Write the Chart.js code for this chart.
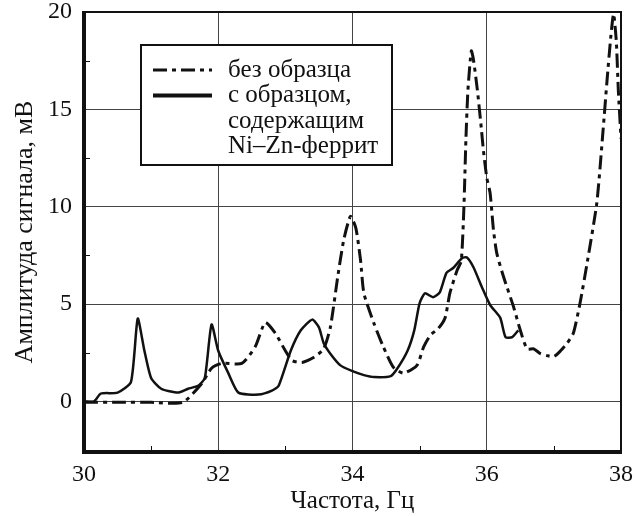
<!DOCTYPE html>
<html lang="ru">
<head>
<meta charset="utf-8">
<title>Амплитуда сигнала</title>
<script src="https://cdn.jsdelivr.net/npm/chart.js@4.4.1/dist/chart.umd.min.js"></script>
<style>
  html, body { margin: 0; padding: 0; background: #fff; }
  canvas { display: block; }
</style>
</head>
<body>
<canvas id="myChart" width="635" height="516"></canvas>
<script>
// без образца: частота, Гц / амплитуда, мВ
const freqEmpty = [30.0, 30.5, 31.0, 31.47, 31.75, 31.9, 32.05, 32.35, 32.55, 32.7, 32.85, 33.0, 33.1, 33.25,
  33.42, 33.57, 33.67, 33.78, 33.87, 33.97, 34.05, 34.12, 34.17, 34.32, 34.46, 34.61, 34.76, 34.96, 35.06,
  35.16, 35.28, 35.38, 35.45, 35.56, 35.62, 35.66, 35.69, 35.72, 35.77, 35.8, 35.86, 35.92, 35.95, 36.0,
  36.05, 36.1, 36.15, 36.25, 36.4, 36.5, 36.6, 36.7, 36.8, 36.9, 37.0, 37.1, 37.2, 37.29, 37.39, 37.5,
  37.64, 37.73, 37.79, 37.85, 37.89, 37.93, 37.96, 38.0];
const ampEmpty = [-0.05, -0.05, -0.05, -0.05, 0.9, 1.7, 1.95, 1.95, 2.8, 4.05, 3.5, 2.6, 2.1, 2.0,
  2.25, 2.7, 3.8, 6.4, 8.3, 9.5, 8.9, 7.25, 5.55, 4.0, 2.8, 1.75, 1.45, 1.85, 2.8,
  3.4, 3.75, 4.3, 5.55, 6.75, 7.2, 10.0, 13.5, 16.0, 18.0, 17.6, 16.0, 14.0, 12.9, 11.5,
  10.7, 8.8, 7.6, 6.4, 4.85, 3.65, 2.7, 2.7, 2.45, 2.35, 2.3, 2.6, 3.0, 3.5, 5.05, 7.2,
  10.2, 13.8, 16.4, 18.8, 19.9, 18.5, 16.0, 13.5];

// с образцом, содержащим Ni–Zn-феррит
const freqSample = [30.0, 30.15, 30.25, 30.5, 30.7, 30.8, 30.9, 31.0, 31.15, 31.4, 31.55, 31.7, 31.8, 31.9,
  32.0, 32.15, 32.3, 32.6, 32.8, 32.9, 33.08, 33.23, 33.4, 33.5, 33.57, 33.67, 33.82, 34.0, 34.17, 34.32,
  34.57, 34.67, 34.82, 34.92, 35.0, 35.08, 35.2, 35.3, 35.4, 35.5, 35.63, 35.7, 35.8, 35.93, 36.05, 36.2,
  36.28, 36.38, 36.47];
const ampSample = [0.0, 0.0, 0.4, 0.45, 1.0, 4.25, 2.6, 1.2, 0.65, 0.45, 0.65, 0.8, 1.2, 3.95,
  2.6, 1.45, 0.45, 0.35, 0.55, 0.8, 2.6, 3.65, 4.2, 3.8, 3.0, 2.45, 1.85, 1.55, 1.35, 1.25,
  1.3, 1.7, 2.6, 3.65, 5.05, 5.55, 5.35, 5.6, 6.6, 6.85, 7.35, 7.4, 6.9, 5.85, 4.95, 4.3,
  3.3, 3.3, 3.65];

const xTicks = [30, 32, 34, 36, 38];
const yTicks = [0, 5, 10, 15, 20];
const xMinor = [31, 33, 35, 37];
const yMinor = [2.5, 7.5, 12.5, 17.5];

const legendItems = [
  { lines: ['без образца'], dash: [14, 5, 4, 5] },
  { lines: ['с образцом,', 'содержащим', 'Ni–Zn-феррит'], dash: [] }
];

const SERIF = '"Liberation Serif", "Times New Roman", serif';
const dashDot = [14, 5, 4, 5];

function toPoints(xs, ys) {
  return xs.map((x, i) => ({ x: x, y: ys[i] }));
}

// рамка: левая и нижняя стороны толще, плюс короткие внутренние риски
const framePlugin = {
  id: 'frame',
  afterDatasetsDraw(chart) {
    const { ctx, chartArea: a, scales } = chart;
    ctx.save();
    ctx.strokeStyle = '#111';
    ctx.lineWidth = 2;
    ctx.beginPath();
    ctx.moveTo(a.left, a.top);
    ctx.lineTo(a.right, a.top);
    ctx.lineTo(a.right, a.bottom);
    ctx.stroke();
    ctx.lineWidth = 4;
    ctx.beginPath();
    ctx.moveTo(a.left, a.top - 1);
    ctx.lineTo(a.left, a.bottom);
    ctx.lineTo(a.right + 1, a.bottom);
    ctx.stroke();

    ctx.lineWidth = 1;
    ctx.beginPath();
    xMinor.forEach(v => {
      const px = Math.round(scales.x.getPixelForValue(v)) + 0.5;
      ctx.moveTo(px, a.bottom);
      ctx.lineTo(px, a.bottom - 6);
    });
    yMinor.forEach(v => {
      const py = Math.round(scales.y.getPixelForValue(v)) + 0.5;
      ctx.moveTo(a.left, py);
      ctx.lineTo(a.left + 6, py);
    });
    ctx.stroke();
    ctx.restore();
  }
};

// легенда в рамке поверх сетки
const boxLegend = {
  id: 'boxLegend',
  afterDraw(chart) {
    const { ctx, chartArea: a } = chart;
    const left = a.left + 57, top = a.top + 33, w = 251, h = 120;
    ctx.save();
    ctx.fillStyle = '#fff';
    ctx.fillRect(left, top, w, h);
    ctx.strokeStyle = '#111';
    ctx.lineWidth = 2;
    ctx.strokeRect(left, top, w, h);

    ctx.font = '25px ' + SERIF;
    ctx.fillStyle = '#111';
    ctx.textBaseline = 'middle';
    let row = 0;
    legendItems.forEach(item => {
      const y = top + 25 + row * 25.5;
      ctx.beginPath();
      ctx.setLineDash(item.dash);
      ctx.lineWidth = item.dash.length ? 3 : 4;
      ctx.moveTo(left + 12, y);
      ctx.lineTo(left + 71, y);
      ctx.stroke();
      ctx.setLineDash([]);
      item.lines.forEach((t, i) => {
        ctx.fillText(t, left + 87, y + i * 25.5);
      });
      row += item.lines.length;
    });
    ctx.restore();
  }
};

new Chart(document.getElementById('myChart'), {
  type: 'line',
  data: {
    datasets: [
      {
        label: 'без образца',
        data: toPoints(freqEmpty, ampEmpty),
        borderColor: '#111',
        borderWidth: 3,
        borderDash: dashDot,
        pointRadius: 0,
        tension: 0.2,
        fill: false
      },
      {
        label: 'с образцом, содержащим Ni–Zn-феррит',
        data: toPoints(freqSample, ampSample),
        borderColor: '#111',
        borderWidth: 2.5,
        pointRadius: 0,
        tension: 0.2,
        fill: false
      }
    ]
  },
  options: {
    responsive: false,
    animation: false,
    layout: { padding: { top: 12, right: 14, left: 0, bottom: 0 } },
    plugins: {
      legend: { display: false },
      tooltip: { enabled: false }
    },
    scales: {
      x: {
        type: 'linear',
        min: 30,
        max: 38,
        afterBuildTicks: s => { s.ticks = xTicks.map(v => ({ value: v })); },
        afterFit: s => { s.height = 64; s.paddingLeft = 0; s.paddingRight = 0; },
        grid: { color: '#444', lineWidth: 1, drawTicks: false },
        border: { display: false },
        ticks: { color: '#111', padding: 8, font: { family: SERIF, size: 24 } },
        title: {
          display: true,
          text: 'Частота, Гц',
          color: '#111',
          padding: { top: 2, bottom: 0 },
          font: { family: SERIF, size: 25 }
        }
      },
      y: {
        min: -2.6,
        max: 20,
        afterBuildTicks: s => { s.ticks = yTicks.map(v => ({ value: v })); },
        afterFit: s => { s.width = 84; s.paddingTop = 0; s.paddingBottom = 0; },
        grid: { color: '#444', lineWidth: 1, drawTicks: false },
        border: { display: false },
        ticks: { color: '#111', padding: 12, font: { family: SERIF, size: 24 } },
        title: {
          display: true,
          text: 'Амплитуда сигнала, мВ',
          color: '#111',
          padding: { top: 10, bottom: 0 },
          font: { family: SERIF, size: 26 }
        }
      }
    }
  },
  plugins: [framePlugin, boxLegend]
});
</script>
</body>
</html>
